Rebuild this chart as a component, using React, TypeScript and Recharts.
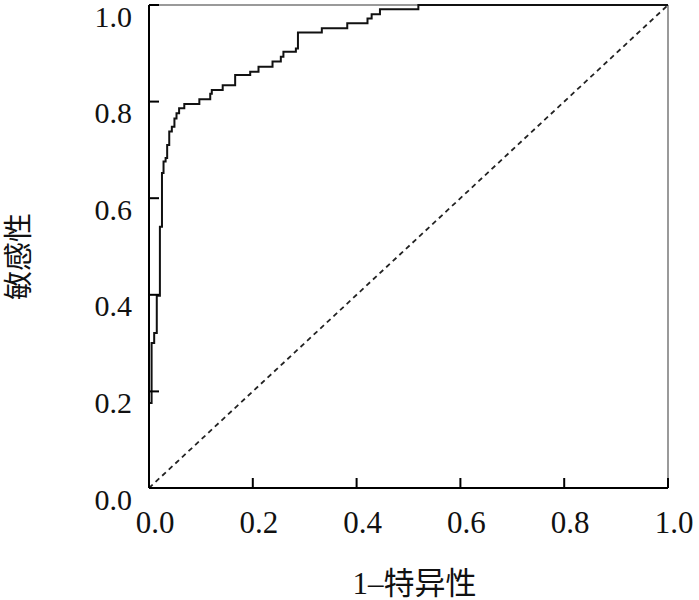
import { LineChart, Line, XAxis, YAxis, ReferenceLine, Label } from 'recharts';

// ROC curve: x of each vertical step and the sensitivity reached at its top
const fpr = [
  0, 0, 0.005, 0.01, 0.015, 0.021, 0.025, 0.028, 0.032, 0.035, 0.039, 0.044, 0.049,
  0.053, 0.058, 0.068, 0.097, 0.118, 0.121, 0.142, 0.166, 0.195, 0.211, 0.238,
  0.254, 0.259, 0.283, 0.287, 0.333, 0.382, 0.421, 0.429, 0.445, 0.519, 1,
];
const tpr = [
  0, 0.176, 0.3, 0.321, 0.398, 0.541, 0.652, 0.676, 0.683, 0.71, 0.738, 0.748, 0.765,
  0.776, 0.786, 0.795, 0.805, 0.816, 0.824, 0.834, 0.855, 0.862, 0.872, 0.883,
  0.893, 0.903, 0.91, 0.943, 0.952, 0.962, 0.972, 0.981, 0.991, 1, 1,
];

const xTicks = [0, 0.2, 0.4, 0.6, 0.8, 1];
const yTicks = [0, 0.2, 0.4, 0.6, 0.8, 1];
const diagonal = [{ x: 0, y: 0 }, { x: 1, y: 1 }];

const xTitle = '1–特异性';
const yTitle = '敏感性';

const rocData = fpr.map((x, i) => ({ fpr: x, tpr: tpr[i] }));

const serif = "'Liberation Serif', 'Times New Roman', 'Noto Sans CJK SC', serif";

const YTick = ({ x, y, payload }: any) => (
  <g>
    <line x1={x} x2={x + 10} y1={y} y2={y} stroke="#000" strokeWidth={2} />
    <text x={x - 17} y={y + 11} textAnchor="end" dominantBaseline="central" fontFamily={serif} fontSize={30} fill="#111">
      {Number(payload.value).toFixed(1)}
    </text>
  </g>
);

const XTick = ({ x, y, payload }: any) => (
  <g>
    <line x1={x} x2={x} y1={y} y2={y - 10} stroke="#000" strokeWidth={2} />
    <text x={x + 6} y={y + 34} textAnchor="middle" dominantBaseline="central" fontFamily={serif} fontSize={31} fill="#111">
      {Number(payload.value).toFixed(1)}
    </text>
  </g>
);

const XTitle = ({ viewBox }: any) => {
  const vb = viewBox || { x: 149, y: 488, width: 519 };
  return (
    <text x={vb.x + vb.width / 2 + 6} y={vb.y + 95} textAnchor="middle" dominantBaseline="central" fontFamily={serif} fontSize={31} fill="#111">
      {xTitle}
    </text>
  );
};

const YTitle = ({ viewBox }: any) => {
  const vb = viewBox || { x: 0, y: 5, height: 483 };
  const cy = vb.y + vb.height / 2 + 10;
  return (
    <text x={19} y={cy} transform={`rotate(-90, 19, ${cy})`} textAnchor="middle" dominantBaseline="central" fontFamily={serif} fontSize={29} fill="#111">
      {yTitle}
    </text>
  );
};

export default function App() {
  return (
    <div style={{ position: 'absolute', left: 0, top: 0, background: '#fff' }}>
      <LineChart width={699} height={600} data={rocData} margin={{ top: 5, right: 31, bottom: 0, left: 0 }}>
        <XAxis
          type="number"
          dataKey="fpr"
          domain={[0, 1]}
          ticks={xTicks}
          height={112}
          tickSize={0}
          tickMargin={0}
          tickLine={false}
          axisLine={{ stroke: '#000', strokeWidth: 2 }}
          tick={(p: any) => <XTick {...p} />}
          interval={0}
        >
          <Label content={(p: any) => <XTitle {...p} />} />
        </XAxis>
        <YAxis
          type="number"
          domain={[0, 1]}
          ticks={yTicks}
          width={149}
          tickSize={0}
          tickMargin={0}
          tickLine={false}
          axisLine={{ stroke: '#000', strokeWidth: 2 }}
          tick={(p: any) => <YTick {...p} />}
          interval={0}
        >
          <Label content={(p: any) => <YTitle {...p} />} />
        </YAxis>
        <ReferenceLine y={1} stroke="#9a9a9a" strokeWidth={2} />
        <ReferenceLine x={1} stroke="#9a9a9a" strokeWidth={2} />
        <ReferenceLine segment={diagonal} stroke="#222" strokeWidth={1.8} strokeDasharray="5 4" />
        <Line
          type="stepAfter"
          dataKey="tpr"
          stroke="#111"
          strokeWidth={2}
          dot={false}
          isAnimationActive={false}
        />
      </LineChart>
    </div>
  );
}
